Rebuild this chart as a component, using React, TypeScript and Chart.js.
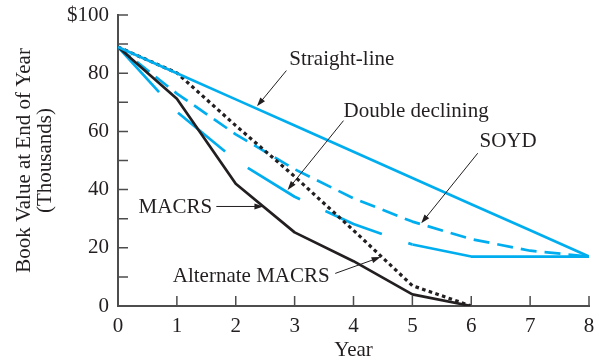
import React, { useEffect, useRef } from 'react';
import { Chart, registerables } from 'chart.js';

Chart.register(...registerables);

// ---- data ----
const years = [0, 1, 2, 3, 4, 5, 6, 7, 8];
const straightLine = [89, 80, 71, 62, 53, 44, 35, 26, 17];
const soyd = [89, 73, 59, 47, 37, 29, 23, 19, 17];
const doubleDeclining = [89, 66.75, 50.06, 37.55, 28.16, 21.12, 17, 17, 17];
const macrsYears = [0, 1, 2, 3, 4, 5, 6];
const macrs = [89, 71.2, 42, 25.3, 15.4, 4, 0];
const altMacrs = [89, 80.1, 62, 44.5, 26, 7, 0];

const xTickValues = [0, 1, 2, 3, 4, 5, 6, 7, 8];
const xTickLabels = ['0', '1', '2', '3', '4', '5', '6', '7', '8'];
const yTickValues = [0, 20, 40, 60, 80, 100];
const yTickLabels = ['0', '20', '40', '60', '80', '$100'];
const yMinorTicks = [10, 20, 30, 40, 50, 60, 70, 80, 90, 100];

const yTitle = ['Book Value at End of Year', '(Thousands)'];
const xTitle = 'Year';

// label text position (data units), arrow start and tip (data units)
const annotations = [
  { text: 'Straight-line', tx: 2.91, ty: 82.9, from: [2.86, 80.9], to: [2.36, 68.6] },
  { text: 'Double declining', tx: 3.83, ty: 65.1, from: [3.83, 63.7], to: [2.88, 39.9] },
  { text: 'SOYD', tx: 6.14, ty: 54.6, from: [6.11, 52.5], to: [5.15, 28.4] },
  { text: 'MACRS', tx: 0.35, ty: 31.9, from: [1.67, 34.2], to: [2.47, 34.2] },
  { text: 'Alternate MACRS', tx: 0.93, ty: 8.4, from: [3.69, 11.2], to: [4.46, 16.8] },
];

const FONT = "'Liberation Serif', 'Times New Roman', serif";
const INK = '#231f20';
const BLUE = '#00aeef';
const AXIS = '#4d4d4d';

const pts = (xs: number[], ys: number[]) => ys.map((y, i) => ({ x: xs[i], y }));

function arrow(ctx: CanvasRenderingContext2D, x1: number, y1: number, x2: number, y2: number) {
  const a = Math.atan2(y2 - y1, x2 - x1);
  const c = Math.cos(a), s = Math.sin(a);
  const L = 9, W = 3;
  ctx.strokeStyle = INK;
  ctx.fillStyle = INK;
  ctx.lineWidth = 1;
  ctx.beginPath();
  ctx.moveTo(x1, y1);
  ctx.lineTo(x2 - c * L * 0.7, y2 - s * L * 0.7);
  ctx.stroke();
  ctx.beginPath();
  ctx.moveTo(x2, y2);
  ctx.lineTo(x2 - c * L + s * W, y2 - s * L - c * W);
  ctx.lineTo(x2 - c * L - s * W, y2 - s * L + c * W);
  ctx.closePath();
  ctx.fill();
}

export default function App() {
  const ref = useRef<HTMLCanvasElement>(null);

  useEffect(() => {
    const canvas = ref.current!;

    const overlay = {
      id: 'overlay',
      afterDraw(chart: any) {
        const { ctx, scales } = chart;
        const xs = scales.x, ys = scales.y;
        const X = (v: number) => xs.getPixelForValue(v);
        const Y = (v: number) => ys.getPixelForValue(v);
        ctx.save();
        // inward tick marks
        ctx.strokeStyle = AXIS;
        ctx.lineWidth = 1.5;
        ctx.beginPath();
        yMinorTicks.forEach((v) => {
          ctx.moveTo(X(0), Y(v));
          ctx.lineTo(X(0) + 10, Y(v));
        });
        xTickValues.slice(1).forEach((v) => {
          ctx.moveTo(X(v), Y(0));
          ctx.lineTo(X(v), Y(0) - 10);
        });
        ctx.stroke();

        // annotations
        ctx.font = `21px ${FONT}`;
        ctx.textAlign = 'left';
        ctx.textBaseline = 'alphabetic';
        annotations.forEach((a) => {
          ctx.fillStyle = INK;
          ctx.fillText(a.text, X(a.tx), Y(a.ty));
          arrow(ctx, X(a.from[0]), Y(a.from[1]), X(a.to[0]), Y(a.to[1]));
        });

        // axis titles
        ctx.fillStyle = INK;
        ctx.textAlign = 'center';
        ctx.fillText(xTitle, X(4), 356);
        const yc = 160.5;
        ctx.save();
        ctx.translate(29.5, yc);
        ctx.rotate(-Math.PI / 2);
        ctx.fillText(yTitle[0], 0, 0);
        ctx.restore();
        ctx.save();
        ctx.translate(50.5, yc);
        ctx.rotate(-Math.PI / 2);
        ctx.fillText(yTitle[1], 0, 0);
        ctx.restore();
        ctx.restore();
      },
    };

    const chart = new Chart(canvas, {
      type: 'line',
      data: {
        datasets: [
          {
            label: 'Straight-line',
            data: pts(years, straightLine),
            borderColor: BLUE,
            borderWidth: 2.7,
          },
          {
            label: 'Alternate MACRS',
            data: pts(macrsYears, altMacrs),
            borderColor: INK,
            borderWidth: 3.2,
            borderDash: [3.6, 3.4],
          },
          {
            label: 'MACRS',
            data: pts(macrsYears, macrs),
            borderColor: INK,
            borderWidth: 2.7,
          },
          {
            label: 'SOYD',
            data: pts(years, soyd),
            borderColor: BLUE,
            borderWidth: 2.7,
            borderDash: [16, 8],
          },
          {
            label: 'Double declining',
            data: pts(years, doubleDeclining),
            borderColor: BLUE,
            borderWidth: 2.7,
            borderDash: [61, 28],
            segment: {
              borderDash: (c: any) => (c.p0.parsed.x >= 5 ? [] : [61, 28]),
            },
          },
        ] as any,
      },
      options: {
        responsive: false,
        animation: false,
        devicePixelRatio: 1,
        layout: { padding: { left: 0, top: 15, right: 10, bottom: 0 } },
        plugins: { legend: { display: false }, tooltip: { enabled: false } },
        elements: {
          point: { radius: 0 },
          line: { tension: 0, borderCapStyle: 'butt', borderJoinStyle: 'round' },
        },
        scales: {
          x: {
            type: 'linear',
            min: 0,
            max: 8,
            afterFit: (s: any) => {
              s.height = 56;
            },
            afterBuildTicks: (s: any) => {
              s.ticks = xTickValues.map((v) => ({ value: v }));
            },
            ticks: {
              autoSkip: false,
              maxRotation: 0,
              padding: 0,
              color: INK,
              font: { family: FONT, size: 21 },
              callback: (v: any) => xTickLabels[xTickValues.indexOf(Number(v))] ?? '',
            },
            grid: { display: false },
            border: { display: true, color: AXIS, width: 2 },
          },
          y: {
            min: 0,
            max: 100,
            afterFit: (s: any) => {
              s.width = 118;
            },
            afterBuildTicks: (s: any) => {
              s.ticks = yTickValues.map((v) => ({ value: v }));
            },
            ticks: {
              autoSkip: false,
              padding: 1,
              color: INK,
              font: { family: FONT, size: 21 },
              callback: (v: any) => yTickLabels[yTickValues.indexOf(Number(v))] ?? '',
            },
            grid: { display: false },
            border: { display: true, color: AXIS, width: 2 },
          },
        },
      } as any,
      plugins: [overlay],
    });

    return () => chart.destroy();
  }, []);

  return (
    <div style={{ position: 'fixed', left: 0, top: 0, width: 599, height: 362, background: '#fff' }}>
      <canvas ref={ref} width={599} height={362} style={{ display: 'block', width: 599, height: 362 }} />
    </div>
  );
}
